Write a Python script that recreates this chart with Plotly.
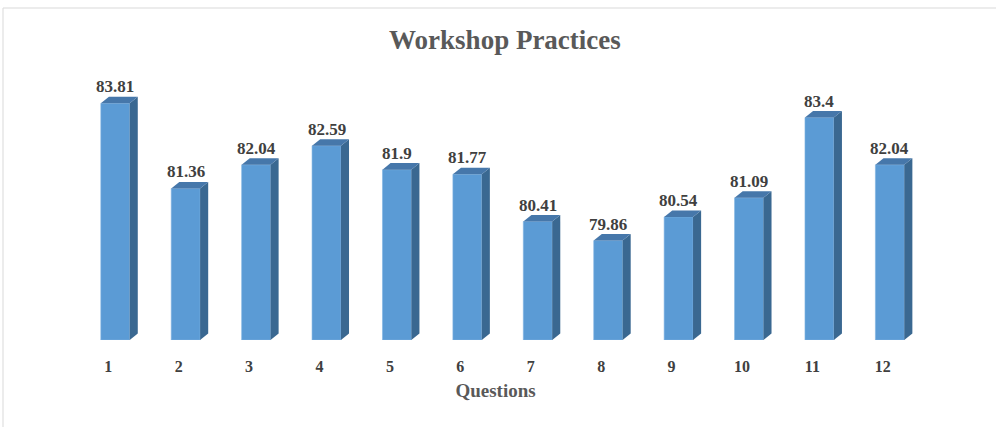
import plotly.graph_objects as go

questions = [1, 2, 3, 4, 5, 6, 7, 8, 9, 10, 11, 12]
scores = [83.81, 81.36, 82.04, 82.59, 81.9, 81.77, 80.41, 79.86, 80.54, 81.09, 83.4, 82.04]
score_labels = ["83.81", "81.36", "82.04", "82.59", "81.9", "81.77", "80.41", "79.86", "80.54", "81.09", "83.4", "82.04"]

Y_MIN, Y_MAX = 77, 85
BAR_SHIFT = 0.1     # perspective shift of bar relative to tick label
BAR_W = 0.41        # front face width (x units)
DX = 0.115          # depth in x units
DY = 0.19           # depth in y units

FRONT = "#5B9BD5"
SIDE = "#3A6891"
TOP = "#4677AA"
TXT = "#404040"
FONT = "Liberation Serif"

fig = go.Figure()

xc = [q + BAR_SHIFT for q in questions]

# side and top faces (3D effect), computed from data values
for x, v in zip(xc, scores):
    xl, xr = x - BAR_W / 2, x + BAR_W / 2
    fig.add_trace(go.Scatter(
        x=[xr, xr + DX, xr + DX, xr, xr],
        y=[Y_MIN, Y_MIN + DY, v + DY, v, Y_MIN],
        fill="toself", fillcolor=SIDE, mode="lines",
        line=dict(width=0), hoverinfo="skip", showlegend=False))
    fig.add_trace(go.Scatter(
        x=[xl, xl + DX, xr + DX, xr, xl],
        y=[v, v + DY, v + DY, v, v],
        fill="toself", fillcolor=TOP, mode="lines",
        line=dict(width=0), hoverinfo="skip", showlegend=False))

# front faces
fig.add_trace(go.Bar(
    x=xc, y=[s - Y_MIN for s in scores], base=Y_MIN, width=BAR_W,
    marker=dict(color=FRONT, line=dict(width=0.6, color="#7FB2E0")),
    showlegend=False, hoverinfo="skip"))

for x, v, lab in zip(xc, scores, score_labels):
    fig.add_annotation(x=x, y=v, text="<b>" + lab + "</b>", showarrow=False,
                       yanchor="bottom", yshift=5,
                       font=dict(family=FONT, size=17, color=TXT))

fig.update_layout(
    width=996, height=427,
    margin=dict(l=73, r=78, t=62, b=87),
    paper_bgcolor="white", plot_bgcolor="white",
    title=dict(text="<b>Workshop Practices</b>", x=0.507, xanchor="center",
               y=1 - 40 / 427, yanchor="middle",
               font=dict(family=FONT, size=27, color="#595959")),
    xaxis=dict(range=[0.5, 12.5], tickvals=questions,
               ticktext=["<b>%d</b>" % q for q in questions],
               showgrid=False, zeroline=False, showline=False,
               ticks="", ticklabelstandoff=15,
               tickfont=dict(family=FONT, size=16, color=TXT),
               title=dict(text="<b>Questions</b>", standoff=9,
                          font=dict(family=FONT, size=19, color="#595959"))),
    yaxis=dict(range=[Y_MIN, Y_MAX], visible=False, showgrid=False),
    shapes=[dict(type="rect", xref="paper", yref="paper",
                 x0=(3 - 73) / 845, x1=1.2, y0=-0.5, y1=(340 - 8) / 278,
                 line=dict(color="#D9D9D9", width=1), fillcolor="rgba(0,0,0,0)",
                 layer="below")],
)

fig.write_html("out.html", config={"displayModeBar": False},
               post_script="document.body.style.margin='0';document.body.style.overflow='hidden';")
